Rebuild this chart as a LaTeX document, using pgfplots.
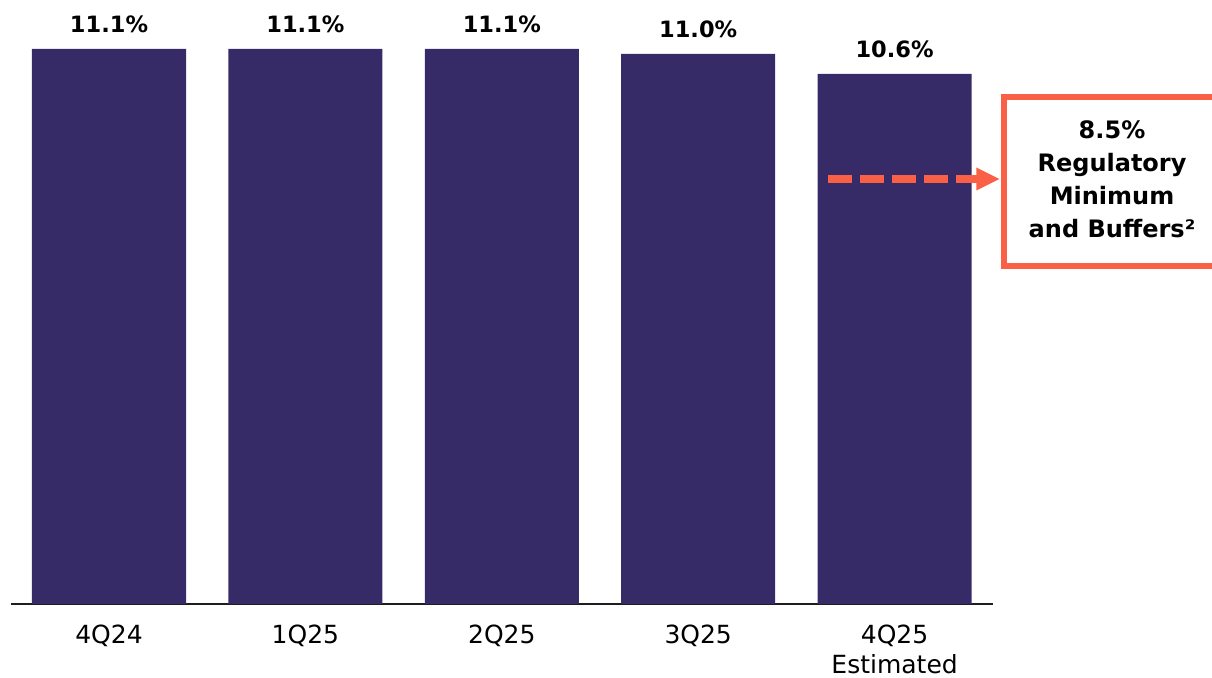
\documentclass[border=0pt]{standalone}
\usepackage{pgfplots}
\pgfplotsset{compat=1.18}
\usepackage{fontspec}
\setmainfont{DejaVu Sans}

\definecolor{barpurple}{RGB}{54,42,103}
\definecolor{minorange}{RGB}{250,96,70}
\definecolor{baseline}{RGB}{30,30,30}

\begin{document}
\begin{tikzpicture}
% page frame: 1px = 0.5pt
\useasboundingbox (-5.4pt,-37pt) rectangle (600.6pt,302pt);
\begin{axis}[
  at={(0pt,0pt)}, anchor=south west,
  scale only axis,
  width=491pt, height=302pt,
  xmin=-0.5, xmax=4.5,
  ymin=0, ymax=12.08,
  axis y line=none,
  axis x line*=bottom,
  x axis line style={-, draw=baseline, line width=1pt},
  xtick={0,1,2,3,4},
  xticklabels={4Q24,1Q25,2Q25,3Q25,{4Q25\\Estimated}},
  major tick length=0pt,
  xticklabel style={align=center, anchor=north, inner sep=0pt, yshift=-10.5pt,
    font=\fontsize{12.5}{14.75}\selectfont, text=black},
  ytick=\empty,
  clip=false,
  /pgf/number format/assume math mode=true,
  nodes near coords={\pgfmathprintnumber[fixed,fixed zerofill,precision=1]{\pgfplotspointmeta}\%},
  every node near coord/.append style={anchor=base, yshift=8pt, inner sep=0pt,
    font=\bfseries\fontsize{11.25}{13}\selectfont, text=black},
]
\addplot[ybar, bar width=77pt, fill=barpurple, draw=none]
  coordinates {(0,11.1) (1,11.1) (2,11.1) (3,11.0) (4,10.6)};

% regulatory minimum pointer
\draw[minorange, line width=4pt, dash pattern=on 12pt off 4pt]
  (axis cs:3.661,8.5) -- (axis cs:4.43,8.5);
\fill[minorange] (axis cs:4.416,8.73) -- (axis cs:4.533,8.5) -- (axis cs:4.416,8.27) -- cycle;

% callout box (open on the right edge)
\draw[minorange, line width=2.75pt, line cap=butt]
  (axis cs:5.62,10.14) -- (axis cs:4.557,10.14) -- (axis cs:4.557,6.76) -- (axis cs:5.62,6.76);
\node[align=center, font=\bfseries\fontsize{12}{16.5}\selectfont, text=black]
  at (axis cs:5.107,8.5) {8.5\%\\Regulatory\\Minimum\\and Buffers²};
\end{axis}
\end{tikzpicture}
\end{document}
